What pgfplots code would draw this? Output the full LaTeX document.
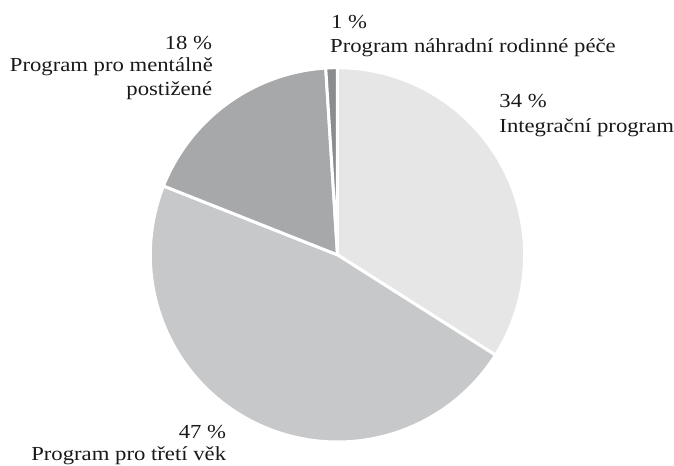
\documentclass[border=0pt]{standalone}
\usepackage{pgfplots}
\pgfplotsset{compat=1.18}
\usepackage{fontspec}
\setmainfont{Liberation Serif}[FakeStretch=1.14]
\definecolor{sA}{HTML}{E6E6E7}
\definecolor{sB}{HTML}{C7C8CA}
\definecolor{sC}{HTML}{A7A8AA}
\definecolor{sD}{HTML}{8B8C8E}
\tikzset{lbl/.style={font=\fontsize{20}{24}\selectfont, inner sep=0pt, text=black!90}}
\begin{document}
\begin{tikzpicture}
\begin{axis}[
  scale only axis, width=674pt, height=468pt,
  xmin=-339, xmax=335, ymin=-212, ymax=256,
  hide axis, clip=false,
]
% cumulative percentages: 0, 34, 81, 99, 100
\addplot[fill=sA, draw=white, line width=3pt, line join=round, domain=0:34, samples=80, variable=\t]
  ({188*cos(90-3.6*\t)}, {188*sin(90-3.6*\t)}) -- (axis cs:0,0) -- cycle;
\addplot[fill=sB, draw=white, line width=3pt, line join=round, domain=34:81, samples=100, variable=\t]
  ({188*cos(90-3.6*\t)}, {188*sin(90-3.6*\t)}) -- (axis cs:0,0) -- cycle;
\addplot[fill=sC, draw=white, line width=3pt, line join=round, domain=81:99, samples=50, variable=\t]
  ({188*cos(90-3.6*\t)}, {188*sin(90-3.6*\t)}) -- (axis cs:0,0) -- cycle;
\addplot[fill=sD, draw=white, line width=3pt, line join=round, domain=99:100, samples=10, variable=\t]
  ({188*cos(90-3.6*\t)}, {188*sin(90-3.6*\t)}) -- (axis cs:0,0) -- cycle;

\node[lbl, anchor=base west] at (axis cs:-6.5,227.7) {1 \%};
\node[lbl, anchor=base west] at (axis cs:-7.5,203.3) {Program náhradní rodinné péče};
\node[lbl, anchor=base west] at (axis cs:162.5,148.3) {34 \%};
\node[lbl, anchor=base west] at (axis cs:162.5,123.3) {Integrační program};
\node[lbl, anchor=base east] at (axis cs:-125.7,206.7) {18 \%};
\node[lbl, anchor=base east] at (axis cs:-125,183.7) {Program pro mentálně};
\node[lbl, anchor=base east] at (axis cs:-125.7,160.3) {postižené};
\node[lbl, anchor=base east] at (axis cs:-111.7,-184) {47 \%};
\node[lbl, anchor=base east] at (axis cs:-111.7,-206.7) {Program pro třetí věk};
\path (rel axis cs:0,0) rectangle (rel axis cs:1,1);
\end{axis}
\end{tikzpicture}
\end{document}
